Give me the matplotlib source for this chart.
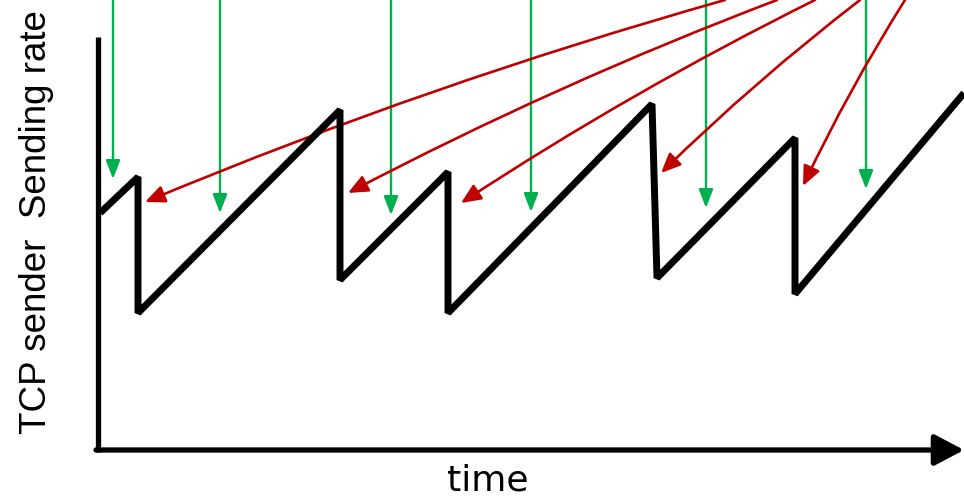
import matplotlib
matplotlib.use("Agg")
import matplotlib.pyplot as plt
from matplotlib.patches import FancyArrowPatch

# ---- data (pixel-like units: x = time, y = position from top) ----
rate_time = [100, 138, 138, 340, 340, 448, 448, 652, 657, 795, 795, 964]
rate_level = [213, 177, 313, 110, 280, 172, 313, 104, 278, 138, 294, 93]

green_x = [113, 220, 391, 531, 706, 866]
green_tip = [179, 213, 215, 212, 208, 189]

red_tip_x = [145, 348, 461, 661, 803]
red_tip_y = [202, 193, 203, 173, 186]
red_top_x = [725, 777, 815, 860, 905]

ylabel_text = "TCP sender  Sending rate"
xlabel_text = "time"

GREEN = "#00B050"
RED = "#C00000"

fig = plt.figure(figsize=(9.64, 4.98), dpi=100)
ax = fig.add_axes([0, 0, 1, 1])
ax.set_xlim(0, 964)
ax.set_ylim(498, 0)
ax.axis("off")

# axes of the diagram
ax.plot([98, 98], [37, 452], color="black", lw=3.8, solid_capstyle="butt")
ax.add_patch(FancyArrowPatch((96, 450), (964, 450),
                             arrowstyle="-|>,head_length=1.8,head_width=0.95",
                             mutation_scale=10, color="black", lw=3.8,
                             shrinkA=0, shrinkB=0))

# sawtooth sending rate
ax.plot(rate_time, rate_level, color="black", lw=5.0,
        solid_joinstyle="bevel", solid_capstyle="butt")

# green arrows
for x, t in zip(green_x, green_tip):
    ax.add_patch(FancyArrowPatch((x, -5), (x, t),
                                 arrowstyle="-|>,head_length=1.6,head_width=0.62",
                                 mutation_scale=7, color=GREEN, lw=1.7,
                                 shrinkA=0, shrinkB=0))

# red arrows
for tx, ty, sx in zip(red_tip_x, red_tip_y, red_top_x):
    ax.add_patch(FancyArrowPatch((sx, 0), (tx, ty),
                                 arrowstyle="-|>,head_length=1.7,head_width=0.75",
                                 mutation_scale=7, color=RED, lw=1.9,
                                 connectionstyle="arc3,rad=0.03",
                                 shrinkA=0, shrinkB=0))

ax.text(37, 222, ylabel_text, rotation=90, ha="center", va="center",
        fontsize=26.5, family=["Liberation Sans", "DejaVu Sans"])
ax.text(488, 480, xlabel_text, ha="center", va="center",
        fontsize=26, family=["DejaVu Sans"])

fig.savefig("out.png", dpi=100)
